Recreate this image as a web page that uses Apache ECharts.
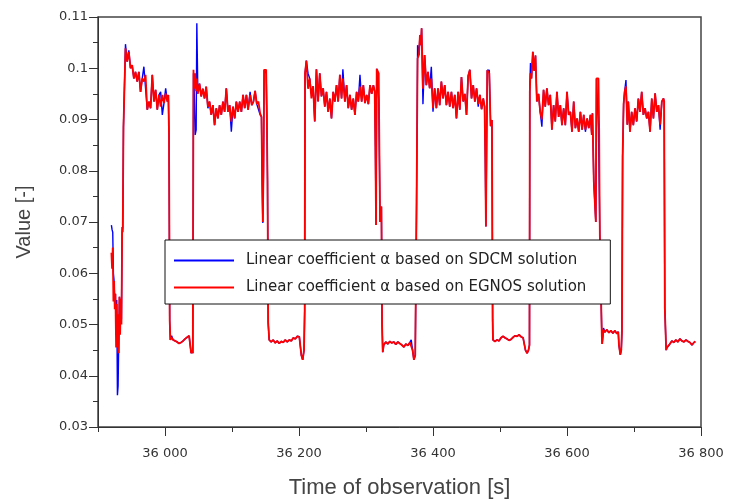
<!DOCTYPE html>
<html>
<head>
<meta charset="utf-8">
<script src="https://cdn.jsdelivr.net/npm/echarts@6/dist/echarts.min.js"></script>
<style>
  html, body { margin: 0; padding: 0; background: #fff; }
  #chart { width: 730px; height: 500px; }
</style>
</head>
<body>
<div id="chart"></div>
<script>
// time of observation [s], one line per segment
var times = [
  35920, 35921, 35922, 35923, 35924, 35925, 35926, 35927, 35928, 35929, 35930, 35931, 35932, 35933, 35934, 35935, 35936, 35937, 35938, 35940,
  35941, 35943.5, 35946, 35948.5, 35951, 35953.5, 35956, 35958.5, 35961, 35963.5, 35966, 35968.5, 35971, 35973.5, 35976, 35978.5, 35981, 35983.5, 35986, 35988.5, 35991, 35993.5, 35996, 35998.5, 36001, 36003.5, 36005, 36006, 36007,
  36008, 36010, 36012, 36015, 36018, 36021, 36024, 36027, 36030, 36033, 36036, 36038, 36039, 36040.5, 36041.5,
  36042.5, 36043.5, 36045, 36046.5, 36047.5, 36049, 36051.5, 36054, 36056.5, 36059,
  36061.5, 36064, 36066.5, 36069, 36071.5, 36074, 36076.5, 36079, 36081.5, 36084,
  36086.5, 36089, 36091.5, 36094, 36096.5, 36099, 36101.5, 36104, 36106.5, 36109,
  36111.5, 36114, 36116.5, 36119, 36121.5, 36124, 36127, 36129.5, 36132, 36134.5,
  36137, 36139.5, 36142, 36144, 36145, 36146, 36147, 36148, 36151, 36152, 36153, 36154,
  36155.5, 36158.5, 36161.5, 36164.5, 36167.5, 36170.5, 36173.5, 36176.5, 36179.5, 36182.5, 36185.5, 36188.5, 36191.5, 36194.5, 36197.5, 36200.5, 36202.5, 36203.5, 36205.5, 36207.5, 36208.5,
  36209, 36211, 36213.5, 36216, 36218.5, 36221, 36223.5, 36226, 36228.5, 36231,
  36233.5, 36236, 36238.5, 36241, 36243.5, 36246, 36248.5, 36251, 36253.5, 36256,
  36258.5, 36261, 36263.5, 36265.5, 36268.5, 36271, 36273.5, 36276, 36278.5, 36281,
  36283.5, 36286, 36288.5, 36291, 36293.5, 36296, 36298.5, 36301, 36303.5, 36306,
  36308.5, 36311, 36313, 36314, 36315, 36316, 36319, 36321, 36323, 36324, 36325,
  36326.5, 36329.5, 36332.5, 36335.5, 36338.5, 36341.5, 36344.5, 36347.5, 36350.5, 36353.5, 36356.5, 36359.5, 36362.5, 36365.5, 36367.5, 36369.5, 36371.5, 36373.5, 36375.5,
  36377, 36379, 36380.5, 36382, 36383, 36385, 36387.5, 36390, 36392.5, 36395,
  36397.5, 36400, 36402.5, 36405, 36407.5, 36410, 36412.5, 36415, 36417.5, 36420,
  36422.5, 36425, 36427.5, 36430, 36432.5, 36435, 36437.5, 36440, 36442.5, 36445,
  36447.5, 36450, 36452.5, 36455, 36457.5, 36460, 36462.5, 36465, 36467.5, 36470,
  36472.5, 36475, 36477, 36478, 36479, 36481, 36484, 36486, 36488, 36489,
  36489.5, 36492.5, 36495.5, 36498.5, 36501.5, 36504.5, 36507.5, 36510.5, 36513.5, 36516.5, 36519.5, 36522.5, 36525.5, 36528.5, 36531.5, 36534.5, 36536.5, 36538, 36540.5, 36542.5, 36544,
  36544.5, 36545.5, 36547, 36549, 36551, 36553, 36555, 36557.5, 36560, 36562.5,
  36565, 36567.5, 36570, 36572.5, 36575, 36577.5, 36580, 36582.5, 36585, 36587.5,
  36590, 36592.5, 36595, 36597.5, 36600, 36602.5, 36605, 36607.5, 36610, 36612.5,
  36615, 36617.5, 36620, 36622.5, 36625, 36627.5, 36630, 36632.5, 36635, 36637,
  36638, 36640, 36642, 36643, 36644, 36647, 36648, 36649, 36651, 36652,
  36652.5, 36654.5, 36656.5, 36659.5, 36662.5, 36665.5, 36668.5, 36671.5, 36674.5, 36676.5, 36677.5, 36679.5, 36681, 36682,
  36683, 36684.5, 36686, 36688, 36690, 36691.5, 36694, 36696.5, 36699, 36701.5,
  36704, 36706.5, 36709, 36711.5, 36714, 36716.5, 36719, 36721.5, 36724, 36726.5,
  36729, 36731.5, 36734, 36736.5, 36739, 36741.5, 36744, 36745, 36746, 36747, 36748, 36749,
  36750.5, 36753.5, 36756.5, 36759.5, 36762.5, 36765.5, 36768.5, 36771.5, 36774.5, 36777.5, 36780.5, 36783.5, 36786.5, 36789.5, 36791.5
];

// linear coefficient alpha, SDCM solution
var sdcm = [
  0.0694, 0.0685, 0.0680, 0.0600, 0.0585, 0.0540, 0.0560, 0.0480, 0.0548, 0.0362, 0.0380, 0.0470, 0.0554, 0.0520, 0.0550, 0.0510, 0.0690, 0.0680, 0.0885, 0.0885,
  0.1047, 0.1013, 0.1035, 0.1000, 0.1006, 0.0980, 0.0993, 0.0974, 0.0993, 0.0954, 0.0980, 0.1003, 0.1003, 0.0919, 0.0935, 0.0922, 0.0987, 0.0935, 0.0958, 0.0919, 0.0948, 0.0954, 0.0909, 0.0932, 0.0961, 0.0935, 0.0948, 0.0870, 0.0505,
  0.0470, 0.0478, 0.0470, 0.0468, 0.0466, 0.0463, 0.0465, 0.0468, 0.0472, 0.0475, 0.0478, 0.0476, 0.0444, 0.0450, 0.0444,
  0.0990, 0.0960, 0.0870, 0.0880, 0.1088, 0.0955, 0.0970, 0.0945, 0.0960, 0.0941,
  0.0964, 0.0922, 0.0935, 0.0909, 0.0928, 0.0889, 0.0922, 0.0902, 0.0928, 0.0909,
  0.0935, 0.0915, 0.0961, 0.0915, 0.0928, 0.0876, 0.0925, 0.0902, 0.0935, 0.0915,
  0.0935, 0.0915, 0.0948, 0.0922, 0.0948, 0.0919, 0.0954, 0.0928, 0.0935, 0.0956,
  0.0930, 0.0928, 0.0909, 0.0905, 0.0780, 0.0698, 0.0800, 0.0997, 0.0990, 0.0908, 0.0780, 0.0502,
  0.0470, 0.0466, 0.0470, 0.0464, 0.0468, 0.0463, 0.0467, 0.0465, 0.0470, 0.0466, 0.0470, 0.0468, 0.0474, 0.0472, 0.0477, 0.0476, 0.0478, 0.0440, 0.0431, 0.0450, 0.0528,
  0.0990, 0.1015, 0.0990, 0.0980, 0.0950, 0.0965, 0.0896, 0.0998, 0.0935, 0.0990,
  0.0945, 0.0961, 0.0925, 0.0954, 0.0915, 0.0941, 0.0902, 0.0954, 0.0935, 0.0967,
  0.0935, 0.0987, 0.0941, 0.0998, 0.0935, 0.0967, 0.0922, 0.0948, 0.0919, 0.0941,
  0.0909, 0.0954, 0.0935, 0.0987, 0.0935, 0.0967, 0.0932, 0.0948, 0.0930, 0.0967,
  0.0950, 0.0967, 0.0955, 0.0847, 0.0694, 0.0999, 0.0938, 0.0700, 0.0730, 0.0499, 0.0446,
  0.0460, 0.0466, 0.0462, 0.0467, 0.0464, 0.0466, 0.0461, 0.0466, 0.0463, 0.0460, 0.0456, 0.0462, 0.0459, 0.0465, 0.0470, 0.0450, 0.0431, 0.0440, 0.0740,
  0.1045, 0.1026, 0.1065, 0.1045, 0.1078, 0.0930, 0.1026, 0.0967, 0.0993, 0.0961,
  0.1003, 0.0915, 0.0961, 0.0922, 0.0961, 0.0928, 0.0974, 0.0941, 0.0967, 0.0928,
  0.0954, 0.0925, 0.0954, 0.0922, 0.0948, 0.0902, 0.0954, 0.0919, 0.0983, 0.0935,
  0.0950, 0.0909, 0.0985, 0.0997, 0.0941, 0.0967, 0.0935, 0.0961, 0.0925, 0.0948,
  0.0920, 0.0941, 0.0925, 0.0827, 0.0691, 0.0996, 0.0996, 0.0887, 0.0899, 0.0509,
  0.0470, 0.0467, 0.0470, 0.0468, 0.0474, 0.0477, 0.0474, 0.0472, 0.0469, 0.0471, 0.0475, 0.0478, 0.0477, 0.0480, 0.0476, 0.0474, 0.0473, 0.0450, 0.0444, 0.0450, 0.0460,
  0.0967, 0.1010, 0.0980, 0.1032, 0.0995, 0.1025, 0.0935, 0.0950, 0.0915, 0.0886,
  0.0958, 0.0925, 0.0961, 0.0928, 0.0948, 0.0880, 0.0928, 0.0896, 0.0954, 0.0905,
  0.0928, 0.0889, 0.0922, 0.0889, 0.0954, 0.0909, 0.0915, 0.0876, 0.0935, 0.0883,
  0.0902, 0.0876, 0.0915, 0.0880, 0.0909, 0.0876, 0.0902, 0.0883, 0.0909, 0.0870,
  0.0912, 0.0779, 0.0779, 0.0700, 0.0980, 0.0883, 0.0880, 0.0675, 0.0675, 0.0476,
  0.0462, 0.0493, 0.0485, 0.0490, 0.0484, 0.0488, 0.0483, 0.0488, 0.0482, 0.0486, 0.0460, 0.0441, 0.0450, 0.0486,
  0.0827, 0.0930, 0.0954, 0.0977, 0.0890, 0.0935, 0.0876, 0.0915, 0.0889, 0.0922,
  0.0896, 0.0941, 0.0915, 0.0954, 0.0909, 0.0922, 0.0902, 0.0915, 0.0876, 0.0941,
  0.0902, 0.0951, 0.0915, 0.0928, 0.0880, 0.0935, 0.0941, 0.0935, 0.0532, 0.0532, 0.0450, 0.0454,
  0.0455, 0.0462, 0.0468, 0.0465, 0.0470, 0.0466, 0.0472, 0.0468, 0.0466, 0.0470, 0.0467, 0.0465, 0.0460, 0.0465, 0.0467
];

// linear coefficient alpha, EGNOS solution
var egnos = [
  0.0640, 0.0609, 0.0650, 0.0545, 0.0585, 0.0530, 0.0560, 0.0455, 0.0540, 0.0460, 0.0520, 0.0444, 0.0554, 0.0480, 0.0550, 0.0500, 0.0680, 0.0690, 0.0885, 0.0885,
  0.1039, 0.1013, 0.1032, 0.1000, 0.1006, 0.0980, 0.0993, 0.0974, 0.0993, 0.0954, 0.0980, 0.0974, 0.0987, 0.0919, 0.0935, 0.0922, 0.0987, 0.0935, 0.0958, 0.0919, 0.0948, 0.0925, 0.0948, 0.0932, 0.0951, 0.0935, 0.0948, 0.0870, 0.0509,
  0.0470, 0.0475, 0.0470, 0.0468, 0.0466, 0.0463, 0.0465, 0.0468, 0.0472, 0.0475, 0.0478, 0.0476, 0.0444, 0.0450, 0.0444,
  0.0997, 0.0960, 0.0990, 0.0955, 0.0980, 0.0950, 0.0970, 0.0945, 0.0960, 0.0941,
  0.0964, 0.0925, 0.0935, 0.0909, 0.0928, 0.0889, 0.0922, 0.0902, 0.0928, 0.0909,
  0.0935, 0.0915, 0.0961, 0.0915, 0.0928, 0.0896, 0.0925, 0.0902, 0.0935, 0.0915,
  0.0935, 0.0915, 0.0948, 0.0922, 0.0948, 0.0919, 0.0948, 0.0928, 0.0935, 0.0956,
  0.0930, 0.0935, 0.0912, 0.0905, 0.0780, 0.0700, 0.0800, 0.0997, 0.0997, 0.0908, 0.0780, 0.0505,
  0.0470, 0.0466, 0.0470, 0.0464, 0.0468, 0.0463, 0.0467, 0.0465, 0.0470, 0.0466, 0.0470, 0.0468, 0.0474, 0.0472, 0.0477, 0.0476, 0.0478, 0.0440, 0.0431, 0.0450, 0.0528,
  0.0990, 0.1015, 0.0960, 0.0980, 0.0941, 0.0965, 0.0896, 0.0998, 0.0935, 0.0990,
  0.0945, 0.0961, 0.0925, 0.0954, 0.0915, 0.0941, 0.0902, 0.0954, 0.0935, 0.0967,
  0.0935, 0.0987, 0.0941, 0.0980, 0.0935, 0.0967, 0.0922, 0.0948, 0.0919, 0.0941,
  0.0909, 0.0954, 0.0935, 0.0964, 0.0935, 0.0967, 0.0932, 0.0948, 0.0930, 0.0967,
  0.0950, 0.0967, 0.0955, 0.0847, 0.0694, 0.0999, 0.0990, 0.0700, 0.0730, 0.0499, 0.0446,
  0.0460, 0.0466, 0.0462, 0.0467, 0.0464, 0.0466, 0.0461, 0.0466, 0.0463, 0.0460, 0.0456, 0.0462, 0.0459, 0.0465, 0.0467, 0.0450, 0.0431, 0.0440, 0.0740,
  0.1019, 0.1026, 0.1065, 0.1045, 0.1078, 0.0960, 0.1026, 0.0967, 0.0993, 0.0961,
  0.0980, 0.0922, 0.0961, 0.0922, 0.0961, 0.0928, 0.0974, 0.0941, 0.0967, 0.0928,
  0.0954, 0.0925, 0.0954, 0.0922, 0.0948, 0.0902, 0.0954, 0.0919, 0.0983, 0.0935,
  0.0950, 0.0909, 0.0985, 0.0997, 0.0941, 0.0967, 0.0935, 0.0961, 0.0930, 0.0948,
  0.0920, 0.0941, 0.0925, 0.0827, 0.0691, 0.0996, 0.0990, 0.0887, 0.0899, 0.0509,
  0.0470, 0.0467, 0.0470, 0.0468, 0.0474, 0.0477, 0.0474, 0.0472, 0.0469, 0.0471, 0.0475, 0.0478, 0.0477, 0.0480, 0.0476, 0.0474, 0.0473, 0.0450, 0.0444, 0.0450, 0.0460,
  0.0954, 0.0990, 0.0980, 0.1032, 0.0995, 0.1025, 0.0935, 0.0950, 0.0915, 0.0900,
  0.0958, 0.0925, 0.0961, 0.0928, 0.0948, 0.0880, 0.0928, 0.0896, 0.0954, 0.0905,
  0.0928, 0.0889, 0.0922, 0.0889, 0.0954, 0.0909, 0.0915, 0.0876, 0.0935, 0.0883,
  0.0902, 0.0876, 0.0915, 0.0880, 0.0909, 0.0880, 0.0902, 0.0883, 0.0909, 0.0870,
  0.0912, 0.0779, 0.0779, 0.0700, 0.0980, 0.0980, 0.0880, 0.0675, 0.0675, 0.0476,
  0.0462, 0.0490, 0.0485, 0.0490, 0.0484, 0.0488, 0.0483, 0.0488, 0.0482, 0.0486, 0.0460, 0.0441, 0.0450, 0.0486,
  0.0827, 0.0930, 0.0954, 0.0965, 0.0890, 0.0935, 0.0876, 0.0915, 0.0889, 0.0922,
  0.0896, 0.0941, 0.0915, 0.0954, 0.0909, 0.0922, 0.0902, 0.0915, 0.0876, 0.0941,
  0.0902, 0.0951, 0.0915, 0.0928, 0.0890, 0.0935, 0.0941, 0.0935, 0.0532, 0.0532, 0.0450, 0.0455,
  0.0455, 0.0462, 0.0468, 0.0465, 0.0470, 0.0466, 0.0472, 0.0468, 0.0466, 0.0470, 0.0467, 0.0465, 0.0460, 0.0465, 0.0467
];

var seriesNames = ['Linear coefficient α based on SDCM solution', 'Linear coefficient α based on EGNOS solution'];

function pairs(values) {
    return times.map(function (t, i) { return [t, values[i]]; });
}

// 36000 -> "36 000"
function spaced(v) {
    return String(v).replace(/\B(?=(\d{3})+(?!\d))/g, ' ');
}

var tickFont = { fontFamily: 'DejaVu Sans', fontSize: 13, color: '#333' };

var myChart = echarts.init(document.getElementById('chart'));

var option = {
    animation: false,
    backgroundColor: '#fff',
    grid: [
        {
            left: 98, right: 29, top: 17, bottom: 73,
            outerBoundsMode: 'none',
            containLabel: false,
            show: true,
            borderColor: '#444',
            borderWidth: 1.5,
            backgroundColor: 'transparent'
        },
        // second grid starts at 36 000 so the long labelled ticks fall on 36 000, 36 200 ...
        {
            left: 165, right: 29, top: 17, bottom: 73,
            outerBoundsMode: 'none',
            containLabel: false,
            show: false
        }
    ],
    legend: {
        orient: 'vertical',
        left: 165,
        top: 240,
        padding: [13, 24, 9, 8],
        itemWidth: 60,
        itemHeight: 14,
        itemGap: 12,
        backgroundColor: '#fff',
        borderColor: '#111',
        borderWidth: 1,
        lineStyle: { width: 2 },
        itemStyle: { opacity: 0 },
        textStyle: {
            fontFamily: 'DejaVu Sans',
            fontSize: 15,
            lineHeight: 14,
            color: '#222',
            padding: [0, 0, 0, 7]
        },
        data: seriesNames
    },
    xAxis: [
        {
            type: 'value',
            gridIndex: 0,
            min: 35900,
            max: 36800,
            interval: 100,
            name: 'Time of observation [s]',
            nameLocation: 'middle',
            nameGap: 50,
            nameTextStyle: { fontFamily: 'Liberation Sans', fontSize: 22, color: '#444' },
            axisLine: { show: true, lineStyle: { color: '#333', width: 1 } },
            axisTick: { show: true, length: 5, lineStyle: { color: '#333' } },
            axisLabel: { show: false },
            splitLine: { show: false }
        },
        {
            type: 'value',
            gridIndex: 1,
            min: 36000,
            max: 36800,
            interval: 200,
            axisLine: { show: false },
            axisTick: { show: true, length: 9, lineStyle: { color: '#333' } },
            axisLabel: Object.assign({ margin: 20, formatter: spaced }, tickFont),
            splitLine: { show: false }
        }
    ],
    yAxis: [
        {
            type: 'value',
            gridIndex: 0,
            min: 0.03,
            max: 0.11,
            interval: 0.01,
            name: 'Value [-]',
            nameLocation: 'middle',
            nameGap: 64,
            nameTextStyle: { fontFamily: 'Liberation Sans', fontSize: 20, color: '#444' },
            axisLine: { show: true, lineStyle: { color: '#333', width: 1 } },
            axisTick: { show: true, length: 9, lineStyle: { color: '#333' } },
            minorTick: { show: true, splitNumber: 2, length: 5, lineStyle: { color: '#333' } },
            axisLabel: Object.assign({ margin: 10 }, tickFont),
            splitLine: { show: false }
        },
        {
            type: 'value',
            gridIndex: 1,
            min: 0.03,
            max: 0.11,
            show: false
        }
    ],
    series: [
        {
            name: seriesNames[0],
            type: 'line',
            xAxisIndex: 0,
            yAxisIndex: 0,
            data: pairs(sdcm),
            symbol: 'none',
            color: '#0000ff',
            lineStyle: { color: '#0000ff', width: 1.4 }
        },
        {
            name: seriesNames[1],
            type: 'line',
            xAxisIndex: 0,
            yAxisIndex: 0,
            data: pairs(egnos),
            symbol: 'none',
            color: '#ff0000',
            lineStyle: { color: '#ff0000', width: 1.8 }
        }
    ]
};

myChart.setOption(option);
</script>
</body>
</html>
